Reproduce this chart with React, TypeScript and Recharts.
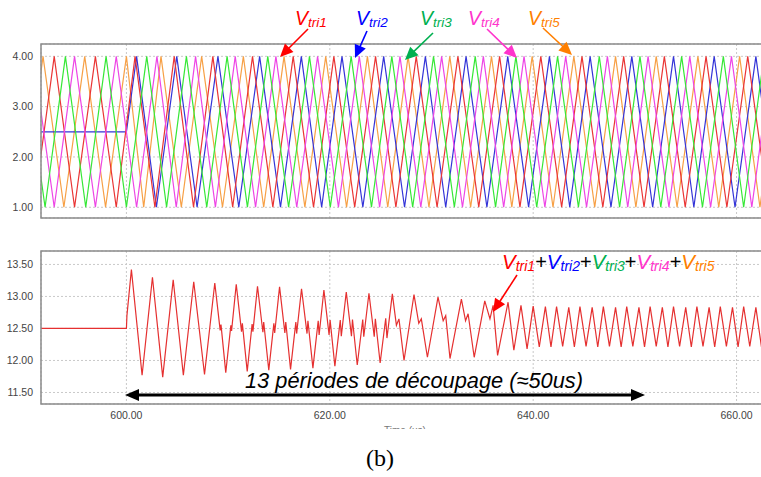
import React from "react";
import { LineChart, Line, XAxis, YAxis, CartesianGrid } from "recharts";

// time axis (us)
const xTicks = [600, 620, 640, 660];
const xDomain: [number, number] = [591.6, 662.6];
const topTicks = [1, 2, 3, 4];
const bottomTicks = [11.5, 12, 12.5, 13, 13.5];

// carrier vertices: peaks sit at 4.00, valleys at 1.00
const tri1Peaks = [588.9, 592.9, 596.95, 600.85, 604.7, 608.5, 612.4, 616.4, 620.4, 624.5, 628.5, 632.6, 636.7, 640.75, 644.8, 648.9, 652.9, 657.0, 661.1, 665.2];
const tri1Valleys = [590.9, 594.9, 599.0, 602.8, 606.6, 610.45, 614.4, 618.4, 622.45, 626.5, 630.55, 634.65, 638.7, 642.8, 646.85, 650.9, 654.95, 659.05, 663.15];

const tri2Idle = [591.0, 600.0]; // held at 2.50 before it starts
const tri2Peaks = [601.0, 604.95, 609.0, 613.1, 617.2, 621.2, 625.3, 629.4, 633.4, 637.5, 641.6, 645.6, 649.7, 653.8, 657.8, 661.9];
const tri2Valleys = [602.95, 606.95, 611.05, 615.15, 619.2, 623.25, 627.35, 631.4, 635.45, 639.55, 643.6, 647.65, 651.75, 655.8, 659.85, 663.9];

const tri3Peaks = [589.95, 594.0, 598.0, 602.0, 605.9, 609.9, 613.9, 618.0, 622.1, 626.1, 630.2, 634.3, 638.3, 642.4, 646.5, 650.5, 654.6, 658.7, 662.7];
const tri3Valleys = [592.0, 596.0, 600.0, 603.95, 607.9, 611.9, 615.95, 620.05, 624.1, 628.15, 632.25, 636.3, 640.35, 644.45, 648.5, 652.55, 656.65, 660.7, 664.7];

const tri4Peaks = [590.85, 594.9, 599.0, 603.0, 606.8, 610.7, 614.7, 618.8, 622.9, 626.9, 631.0, 635.1, 639.1, 643.2, 647.3, 651.3, 655.4, 659.5, 663.5];
const tri4Valleys = [588.9, 592.9, 596.95, 601.0, 604.9, 608.75, 612.7, 616.75, 620.85, 624.9, 628.95, 633.05, 637.1, 641.15, 645.25, 649.3, 653.35, 657.45, 661.5];

const tri5Peaks = [591.8, 595.9, 600.0, 603.4, 607.4, 611.5, 615.5, 619.6, 623.7, 627.7, 631.8, 635.9, 639.9, 644.0, 648.1, 652.1, 656.2, 660.3, 664.3];
const tri5Valleys = [589.8, 593.85, 597.95, 601.7, 605.4, 609.45, 613.5, 617.55, 621.65, 625.7, 629.75, 633.85, 637.9, 641.95, 646.05, 650.1, 654.15, 658.25, 662.3];

// sum of the five carriers
const sumT = [
  591.0, 600.0, 600.05, 600.49, 601.54, 602.56, 603.57, 604.6, 605.6, 606.62, 607.68, 608.69,
  609.22, 609.3, 609.77, 610.27, 610.34, 610.8, 611.32, 611.4, 611.88, 612.36, 612.44, 612.89,
  613.42, 613.5, 614.0, 614.5, 614.58, 615.06, 615.58, 615.67, 616.14, 616.66, 616.74, 617.22,
  617.76, 617.85, 618.34, 618.86, 618.95, 619.42, 619.93, 620.03, 620.5, 621.03, 621.13, 621.62,
  622.13, 622.23, 622.7, 623.24, 623.34, 623.85, 624.37, 624.48, 624.95, 625.5, 625.62, 626.15,
  626.55, 626.8, 627.3, 628.28, 628.75, 629.0, 629.6, 630.64, 631.15, 631.4, 631.82, 632.94, 633.35, 633.6,
  634.2, 635.24, 635.75, 636.06, 636.5, 637.53, 638.1, 638.8, 639.4,
  640.0, 640.6, 641.2, 641.75, 642.3, 642.9, 643.5, 644.05, 644.6, 645.2, 645.8, 646.35, 646.9, 647.5, 648.1,
  648.65, 649.2, 649.8, 650.4, 650.95, 651.5, 652.1, 652.7, 653.25, 653.8, 654.4, 655.0, 655.55, 656.1, 656.7,
  657.3, 657.85, 658.4, 659.0, 659.6, 660.15, 660.7, 661.3, 661.9, 662.45, 663.0,
];
const sumV = [
  12.5, 12.5, 12.7, 13.42, 11.77, 13.3, 11.74, 13.26, 11.77, 13.23, 11.78, 13.21,
  12.47, 12.56, 11.81, 12.55, 12.46, 13.19, 12.45, 12.58, 11.83, 12.57, 12.45, 13.16,
  12.44, 12.6, 11.85, 12.58, 12.43, 13.15, 12.43, 12.6, 11.86, 12.6, 12.42, 13.12,
  12.42, 12.62, 11.88, 12.62, 12.4, 13.1, 12.4, 12.63, 11.91, 12.63, 12.38, 13.07,
  12.38, 12.64, 11.93, 12.64, 12.37, 13.05, 12.37, 12.65, 11.96, 12.66, 12.35, 13.04,
  12.55, 12.65, 12.0, 13.03, 12.58, 12.65, 12.05, 12.99, 12.62, 12.7, 12.03, 12.96, 12.62, 12.73,
  12.05, 12.93, 12.65, 12.86, 12.08, 12.91, 12.16, 12.86, 12.18,
  12.85, 12.21, 12.84, 12.21, 12.84, 12.22, 12.83, 12.21, 12.84, 12.22, 12.83, 12.21, 12.84, 12.22, 12.83,
  12.21, 12.84, 12.22, 12.83, 12.21, 12.84, 12.22, 12.83, 12.21, 12.84, 12.22, 12.83, 12.21, 12.84, 12.22,
  12.83, 12.21, 12.84, 12.22, 12.83, 12.21, 12.84, 12.22, 12.83, 12.21, 12.84,
];

type Pt = { t: number; v: number };

function carrier(peaks: number[], valleys: number[], idle: number[] = []): Pt[] {
  const pts: Pt[] = [
    ...idle.map((t) => ({ t, v: 2.5 })),
    ...peaks.map((t) => ({ t, v: 4 })),
    ...valleys.map((t) => ({ t, v: 1 })),
  ];
  return pts.sort((a, b) => a.t - b.t);
}

const carriers = [
  { name: "Vtri5", color: "#f7a045", data: carrier(tri5Peaks, tri5Valleys) },
  { name: "Vtri2", color: "#3434d8", data: carrier(tri2Peaks, tri2Valleys, tri2Idle) },
  { name: "Vtri1", color: "#ea3535", data: carrier(tri1Peaks, tri1Valleys) },
  { name: "Vtri4", color: "#ee45e6", data: carrier(tri4Peaks, tri4Valleys) },
  { name: "Vtri3", color: "#36e836", data: carrier(tri3Peaks, tri3Valleys) },
];

const sumData: Pt[] = sumT.map((t, i) => ({ t, v: sumV[i] }));

const tickStyle = { fontSize: 10.5, fill: "#444", fontFamily: "Liberation Sans, Arial, sans-serif" };
const fmt = (v: number) => v.toFixed(2);

function Arrow({ x1, y1, x2, y2, color, w = 1.6, head = 13, half = 6 }: any) {
  const dx = x2 - x1;
  const dy = y2 - y1;
  const len = Math.hypot(dx, dy);
  const ux = dx / len;
  const uy = dy / len;
  const bx = x2 - ux * head;
  const by = y2 - uy * head;
  const pts = `${x2},${y2} ${bx - uy * half},${by + ux * half} ${bx + uy * half},${by - ux * half}`;
  return (
    <g>
      <line x1={x1} y1={y1} x2={bx + ux * 2} y2={by + uy * 2} stroke={color} strokeWidth={w} />
      <polygon points={pts} fill={color} />
    </g>
  );
}

const labelFont = "Liberation Sans, Arial, sans-serif";

function VLabel({ x, y, sub, color }: any) {
  return (
    <text x={x} y={y} fill={color} fontFamily={labelFont} fontStyle="italic">
      <tspan fontSize={19.5}>V</tspan>
      <tspan fontSize={13.5} dy={2}>{sub}</tspan>
    </text>
  );
}

const sumParts = [
  { sub: "tri1", color: "#ff0000" },
  { sub: "tri2", color: "#0000ff" },
  { sub: "tri3", color: "#00b050" },
  { sub: "tri4", color: "#ff33cc" },
  { sub: "tri5", color: "#ff7f00" },
];

export default function App() {
  return (
    <div style={{ position: "absolute", left: 0, top: 0, width: 761, height: 477, overflow: "hidden", background: "#fff" }}>
      <div style={{ position: "absolute", left: 0, top: 0 }}>
        <LineChart width={770} height={225} margin={{ top: 44, right: 7, bottom: 7, left: 0 }}>
          <CartesianGrid stroke="#c9c9c9" strokeDasharray="2 2" />
          <XAxis dataKey="t" type="number" domain={xDomain} ticks={xTicks} allowDataOverflow hide />
          <YAxis
            type="number"
            domain={[0.787, 4.245]}
            ticks={topTicks}
            allowDataOverflow
            width={41}
            tickFormatter={fmt}
            tick={tickStyle}
            tickLine={false}
            axisLine={false}
          />
          {carriers.map((c) => (
            <Line
              key={c.name}
              data={c.data}
              dataKey="v"
              type="linear"
              stroke={c.color}
              strokeWidth={1.2}
              dot={false}
              isAnimationActive={false}
            />
          ))}
        </LineChart>
      </div>
      <div style={{ position: "absolute", left: 0, top: 0 }}>
        <LineChart width={770} height={440} margin={{ top: 251, right: 7, bottom: 0, left: 0 }}>
          <CartesianGrid stroke="#c9c9c9" strokeDasharray="2 2" />
          <XAxis
            dataKey="t"
            type="number"
            domain={xDomain}
            ticks={xTicks}
            allowDataOverflow
            height={36}
            tickFormatter={fmt}
            tick={tickStyle}
            tickLine={false}
            axisLine={false}
          />
          <YAxis
            type="number"
            domain={[11.32, 13.71]}
            ticks={bottomTicks}
            allowDataOverflow
            width={41}
            tickFormatter={fmt}
            tick={tickStyle}
            tickLine={false}
            axisLine={false}
          />
          <Line
            data={sumData}
            dataKey="v"
            type="linear"
            stroke="#e53030"
            strokeWidth={1.2}
            dot={false}
            isAnimationActive={false}
          />
        </LineChart>
      </div>
      <svg width={761} height={477} style={{ position: "absolute", left: 0, top: 0, pointerEvents: "none" }}>
        <rect x={41} y={44} width={730} height={174} fill="none" stroke="#8a8a8a" strokeWidth={1.5} />
        <rect x={41} y={251} width={730} height={153} fill="none" stroke="#8a8a8a" strokeWidth={1.5} />

        <VLabel x={295} y={25} sub="tri1" color="#ff0000" />
        <VLabel x={356} y={25} sub="tri2" color="#0000ff" />
        <VLabel x={420} y={25} sub="tri3" color="#00b050" />
        <VLabel x={468} y={25} sub="tri4" color="#ff33cc" />
        <VLabel x={528} y={25} sub="tri5" color="#ff7f00" />
        <Arrow x1={308} y1={29} x2={280} y2={57} color="#ff0000" />
        <Arrow x1={367} y1={31} x2={355} y2={58} color="#0000ff" />
        <Arrow x1={433} y1={33} x2={405} y2={60} color="#00b050" />
        <Arrow x1={487} y1={29} x2={517} y2={58} color="#ff33cc" />
        <Arrow x1={543} y1={28} x2={572} y2={55} color="#ff7f00" />

        <text x={502} y={269} fontFamily={labelFont} fontStyle="italic">
          {sumParts.map((p, i) => (
            <React.Fragment key={p.sub}>
              {i > 0 && (
                <tspan fontSize={20} fill="#000" fontStyle="normal" dy={-2}>+</tspan>
              )}
              <tspan fontSize={20.5} fill={p.color}>V</tspan>
              <tspan fontSize={14} fill={p.color} dy={2}>{p.sub}</tspan>
            </React.Fragment>
          ))}
        </text>
        <Arrow x1={517} y1={275} x2={493} y2={312} color="#ff0000" />

        <text x={245} y={388} fontFamily={labelFont} fontStyle="italic" fontSize={21.8} fill="#000">
          13 périodes de découpage (≈50us)
        </text>
        <line x1={136} y1={395} x2={634} y2={395} stroke="#000" strokeWidth={3} />
        <polygon points="125,395 139,389 139,401" fill="#000" />
        <polygon points="645,395 631,389 631,401" fill="#000" />

        <text x={405} y={434} textAnchor="middle" fontFamily={labelFont} fontSize={10} fill="#777">Time (us)</text>
        <rect x={380} y={429} width={60} height={12} fill="#fff" />

        <text x={380} y={466} textAnchor="middle" fontFamily="Liberation Serif, Times New Roman, serif" fontSize={24} fill="#000">
          (b)
        </text>
      </svg>
    </div>
  );
}
